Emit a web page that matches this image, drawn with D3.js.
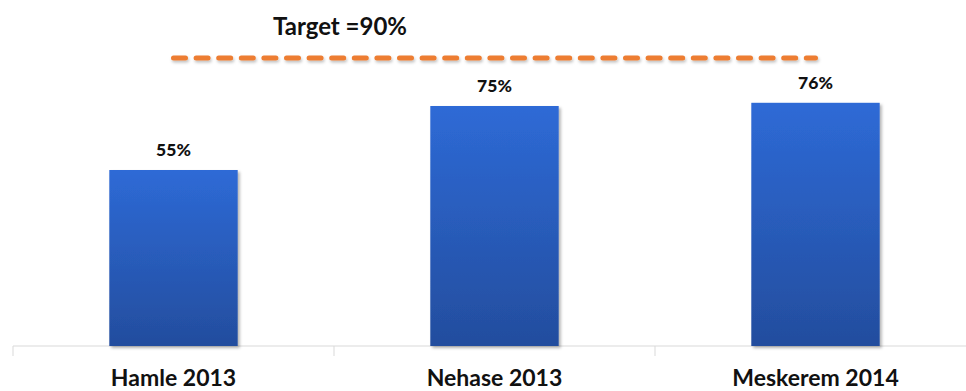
<!DOCTYPE html>
<html>
<head>
<meta charset="utf-8">
<script src="https://cdnjs.cloudflare.com/ajax/libs/d3/7.8.5/d3.min.js"></script>
<style>
  body { margin: 0; background: #fff; }
  svg { display: block; font-family: Lato, "Open Sans", sans-serif; }
</style>
</head>
<body>
<div id="chart"></div>
<script>
var categories = ["Hamle 2013", "Nehase 2013", "Meskerem 2014"];
var values = [55, 75, 76];
var target = 90;
var targetLabel = "Target =90%";

var width = 966, height = 391;
var margin = { top: 26, right: -10, bottom: 45, left: 13 };

var svg = d3.select("#chart")
    .append("svg")
    .attr("width", width)
    .attr("height", height);

var defs = svg.append("defs");
var grad = defs.append("linearGradient")
    .attr("id", "barGrad")
    .attr("x1", 0).attr("y1", 0).attr("x2", 0).attr("y2", 1);
grad.append("stop").attr("offset", "0%").attr("stop-color", "#2E6AD6");
grad.append("stop").attr("offset", "100%").attr("stop-color", "#234D9E");

var shadow = defs.append("filter").attr("id", "shadow")
    .attr("x", "-10%").attr("y", "-10%").attr("width", "130%").attr("height", "130%");
shadow.append("feDropShadow")
    .attr("dx", 2).attr("dy", 2).attr("stdDeviation", 1.5)
    .attr("flood-color", "#000").attr("flood-opacity", 0.3);

// line shadow needs user space units (zero-height bbox)
var lineShadow = defs.append("filter").attr("id", "lineShadow")
    .attr("filterUnits", "userSpaceOnUse")
    .attr("x", 0).attr("y", 0).attr("width", width).attr("height", height);
lineShadow.append("feDropShadow")
    .attr("dx", 1).attr("dy", 2).attr("stdDeviation", 1.5)
    .attr("flood-color", "#000").attr("flood-opacity", 0.25);

var x = d3.scaleBand()
    .domain(categories)
    .range([margin.left, width - margin.right])
    .paddingInner(0.6)
    .paddingOuter(0.3);

var bandX = d3.scaleBand()
    .domain(categories)
    .range([margin.left, width - margin.right]);

var y = d3.scaleLinear()
    .domain([0, 100])
    .range([height - margin.bottom, margin.top]);

// axis
var axis = svg.append("g")
    .attr("transform", "translate(0," + y(0) + ")");
axis.append("line")
    .attr("x1", margin.left).attr("x2", width)
    .attr("stroke", "#D9D9D9").attr("stroke-width", 1);
axis.selectAll(".tick")
    .data(categories)
    .enter().append("line")
    .attr("x1", function (d) { return bandX(d); })
    .attr("x2", function (d) { return bandX(d); })
    .attr("y1", 0).attr("y2", 10)
    .attr("stroke", "#D9D9D9").attr("stroke-width", 1);

svg.selectAll(".bar")
    .data(values)
    .enter().append("rect")
    .attr("class", "bar")
    .attr("x", function (d, i) { return x(categories[i]); })
    .attr("y", function (d) { return y(d); })
    .attr("width", x.bandwidth())
    .attr("height", function (d) { return y(0) - y(d); })
    .attr("fill", "url(#barGrad)")
    .attr("filter", "url(#shadow)");

svg.selectAll(".val")
    .data(values)
    .enter().append("text")
    .attr("x", function (d, i) { return x(categories[i]) + x.bandwidth() / 2; })
    .attr("y", function (d) { return y(d) - 14; })
    .attr("text-anchor", "middle")
    .attr("font-weight", "900")
    .style("font-size", "17.5px")
    .attr("fill", "#111")
    .text(function (d) { return d + "%"; });

svg.selectAll(".cat")
    .data(categories)
    .enter().append("text")
    .attr("x", function (d) { return x(d) + x.bandwidth() / 2; })
    .attr("y", y(0) + 40)
    .attr("text-anchor", "middle")
    .attr("font-weight", "bold")
    .style("font-size", "23px")
    .attr("fill", "#111")
    .text(function (d) { return d; });

// target line
var x0 = x(categories[0]) + x.bandwidth() / 2;
var x1 = x(categories[categories.length - 1]) + x.bandwidth() / 2;
svg.append("line")
    .attr("x1", x0).attr("x2", x1)
    .attr("y1", y(target)).attr("y2", y(target))
    .attr("stroke", "#ED7D31")
    .attr("stroke-width", 5)
    .attr("stroke-linecap", "round")
    .attr("stroke-dasharray", "12,10.6")
    .attr("filter", "url(#lineShadow)");

svg.append("text")
    .attr("x", 340)
    .attr("y", y(target) - 23)
    .attr("text-anchor", "middle")
    .attr("font-weight", "bold")
    .style("font-size", "24px")
    .attr("fill", "#111")
    .text(targetLabel);
</script>
</body>
</html>
